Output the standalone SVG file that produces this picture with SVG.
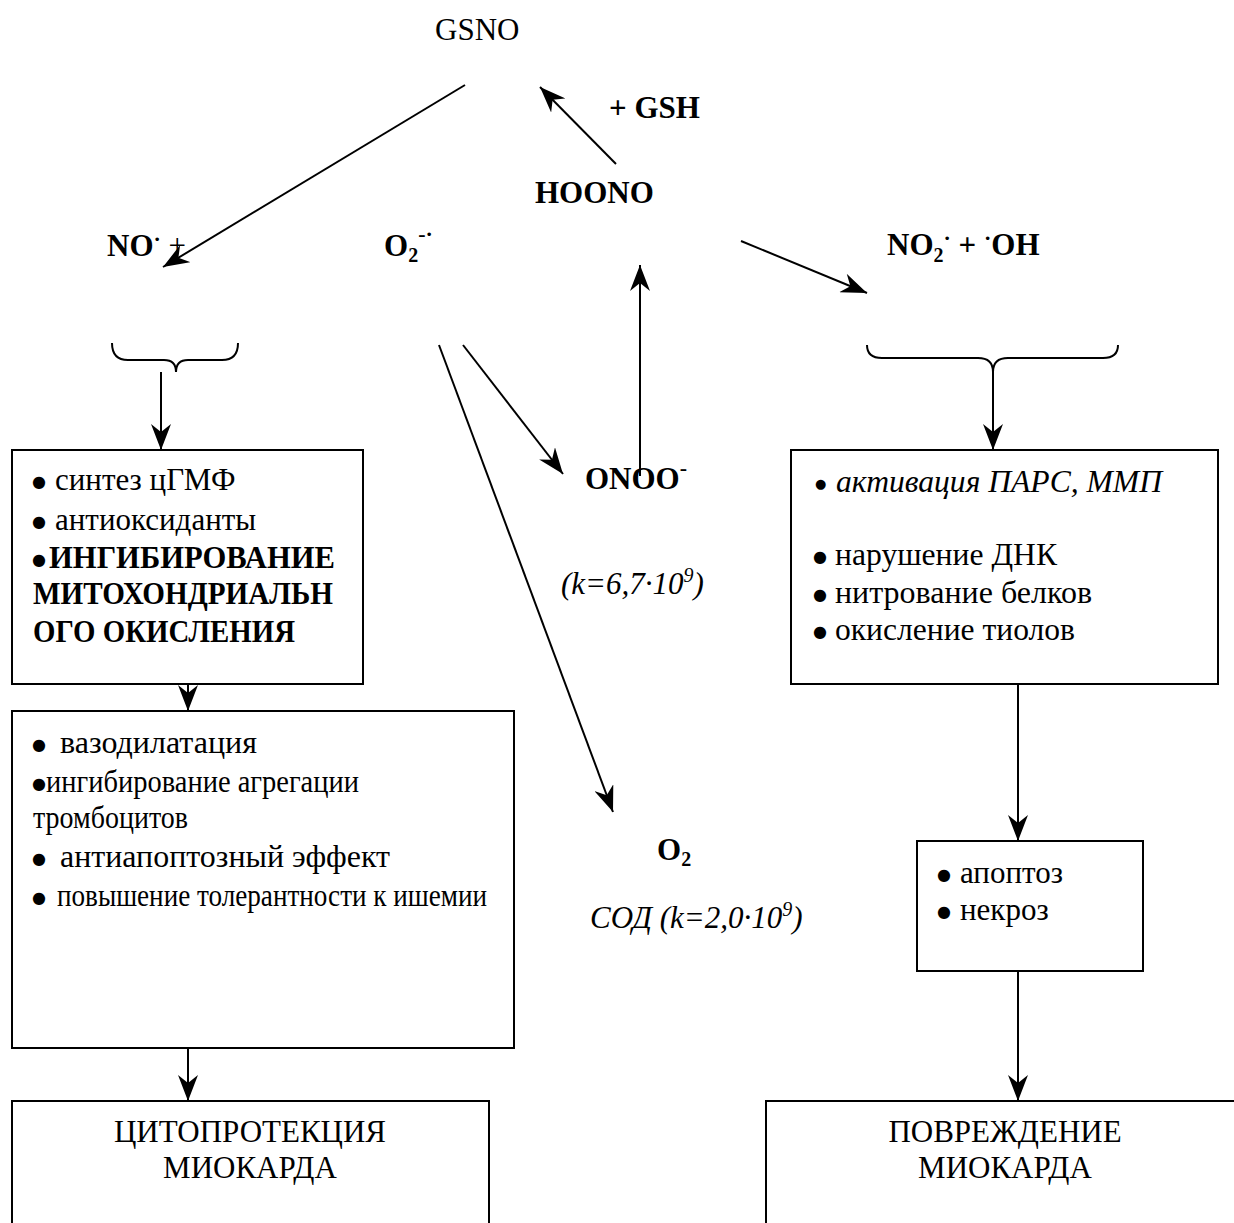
<svg xmlns="http://www.w3.org/2000/svg" width="1234" height="1223" viewBox="0 0 1234 1223">
<style>
.t { font-family: "Liberation Serif", "Times New Roman", serif; font-size: 31px; fill: #000; }
.b { font-weight: bold; }
.i { font-style: italic; }
.c { text-anchor: middle; }
.bu { font-family: "DejaVu Sans", sans-serif; font-size: 16px; fill: #000; }
.bui { font-family: "DejaVu Sans", sans-serif; font-size: 13px; fill: #000; }
.box { fill: #fff; stroke: #000; stroke-width: 2; }
.ln { stroke: #000; stroke-width: 2; fill: none; }
</style>
<defs>
<marker id="ah" viewBox="0 0 26 20" refX="26" refY="10" markerWidth="26" markerHeight="20" markerUnits="userSpaceOnUse" orient="auto">
<path d="M0,0 L26,10 L0,20 L8,10 Z" fill="#000"/>
</marker>
</defs>
<rect width="1234" height="1223" fill="#fff"/>

<g id="connectors">
<line class="ln" x1="465" y1="85" x2="163" y2="267" marker-end="url(#ah)"/>
<line class="ln" x1="616" y1="164" x2="540" y2="87" marker-end="url(#ah)"/>
<line class="ln" x1="741" y1="241" x2="867" y2="293" marker-end="url(#ah)"/>
<line class="ln" x1="640" y1="476" x2="640" y2="265" marker-end="url(#ah)"/>
<line class="ln" x1="463" y1="345" x2="563" y2="474" marker-end="url(#ah)"/>
<line class="ln" x1="439" y1="345" x2="613" y2="812" marker-end="url(#ah)"/>
<path class="ln" d="M112,343 Q112,360 128,360 L164,360 Q176,360 176,372 Q176,360 188,360 L222,360 Q238,360 238,343"/>
<line class="ln" x1="161" y1="372" x2="161" y2="450" marker-end="url(#ah)"/>
<path class="ln" d="M867,345 Q867,358 882,358 L978,358 Q993,358 993,372 Q993,358 1008,358 L1103,358 Q1118,358 1118,345"/>
<line class="ln" x1="993" y1="372" x2="993" y2="450" marker-end="url(#ah)"/>
<line class="ln" x1="188" y1="678" x2="188" y2="711" marker-end="url(#ah)"/>
<line class="ln" x1="188" y1="1048" x2="188" y2="1101" marker-end="url(#ah)"/>
<line class="ln" x1="1018" y1="684" x2="1018" y2="841" marker-end="url(#ah)"/>
<line class="ln" x1="1018" y1="971" x2="1018" y2="1101" marker-end="url(#ah)"/>
</g>

<g id="gsno"><text class="t" x="435" y="40">GSNO</text></g>
<g id="gsh"><text class="t b" x="609" y="118">+ GSH</text></g>
<g id="hoono"><text class="t b" x="535" y="203">HOONO</text></g>
<g id="no"><text class="t b" x="107" y="256">NO<tspan font-size="22" dy="-10">·</tspan><tspan dy="10" font-weight="normal"> +</tspan></text></g>
<g id="o2rad"><text class="t b" x="384" y="256">O<tspan font-size="20" dy="6">2</tspan><tspan font-size="22" dy="-21">-·</tspan></text></g>
<g id="no2oh"><text class="t b" x="887" y="255">NO<tspan font-size="20" dy="7">2</tspan><tspan font-size="22" dy="-17">·</tspan><tspan dy="10"> + </tspan><tspan font-size="22" dy="-10">·</tspan><tspan dy="10">OH</tspan></text></g>
<g id="onoo"><text class="t b" x="585" y="489">ONOO<tspan font-size="22" dy="-14">-</tspan></text></g>
<g id="k1"><text class="t i" x="561" y="594">(k=6,7·10<tspan font-size="20" dy="-12">9</tspan><tspan dy="12">)</tspan></text></g>
<g id="o2"><text class="t b" x="657" y="860">O<tspan font-size="20" dy="6">2</tspan></text></g>
<g id="k2"><text class="t i" x="590" y="928">СОД (k=2,0·10<tspan font-size="20" dy="-12">9</tspan><tspan dy="12">)</tspan></text></g>

<g id="box-effects1">
<rect class="box" x="12" y="450" width="351" height="234"/>
<text class="bu" x="32" y="487">●</text>
<text class="t" x="55" y="490">синтез цГМФ</text>
<text class="bu" x="32" y="527">●</text>
<text class="t" x="55" y="530">антиоксиданты</text>
<text class="bu" x="32" y="565">●</text>
<text class="t b" x="49" y="568" textLength="286" lengthAdjust="spacingAndGlyphs">ИНГИБИРОВАНИЕ</text>
<text class="t b" x="33" y="604" textLength="300" lengthAdjust="spacingAndGlyphs">МИТОХОНДРИАЛЬН</text>
<text class="t b" x="33" y="642" textLength="262" lengthAdjust="spacingAndGlyphs">ОГО ОКИСЛЕНИЯ</text>
</g>

<g id="box-effects2">
<rect class="box" x="12" y="711" width="502" height="337"/>
<text class="bu" x="32" y="750">●</text>
<text class="t" x="60" y="753" textLength="197" lengthAdjust="spacingAndGlyphs">вазодилатация</text>
<text class="bu" x="32" y="789">●</text>
<text class="t" x="46" y="792" textLength="313" lengthAdjust="spacingAndGlyphs">ингибирование агрегации</text>
<text class="t" x="33" y="828" textLength="155" lengthAdjust="spacingAndGlyphs">тромбоцитов</text>
<text class="bu" x="32" y="864">●</text>
<text class="t" x="60" y="867" textLength="330" lengthAdjust="spacingAndGlyphs">антиапоптозный эффект</text>
<text class="bu" x="32" y="903">●</text>
<text class="t" x="57" y="906" textLength="430" lengthAdjust="spacingAndGlyphs">повышение толерантности к ишемии</text>
</g>

<g id="box-damage">
<rect class="box" x="791" y="450" width="427" height="234"/>
<text class="bui" x="815" y="488">●</text>
<text class="t i" x="836" y="492" textLength="326" lengthAdjust="spacingAndGlyphs">активация ПАРС, ММП</text>
<text class="bu" x="813" y="562">●</text>
<text class="t" x="835" y="565" textLength="222" lengthAdjust="spacingAndGlyphs">нарушение ДНК</text>
<text class="bu" x="813" y="600">●</text>
<text class="t" x="835" y="603" textLength="257" lengthAdjust="spacingAndGlyphs">нитрование белков</text>
<text class="bu" x="813" y="637">●</text>
<text class="t" x="835" y="640" textLength="240" lengthAdjust="spacingAndGlyphs">окисление тиолов</text>
</g>

<g id="box-apoptosis">
<rect class="box" x="917" y="841" width="226" height="130"/>
<text class="bu" x="937" y="880">●</text>
<text class="t" x="960" y="883">апоптоз</text>
<text class="bu" x="937" y="917">●</text>
<text class="t" x="960" y="920">некроз</text>
</g>

<g id="box-cytoprotection">
<rect class="box" x="12" y="1101" width="477" height="140"/>
<text class="t c" x="250" y="1142">ЦИТОПРОТЕКЦИЯ</text>
<text class="t c" x="250" y="1178">МИОКАРДА</text>
</g>

<g id="box-injury">
<rect class="box" x="766" y="1101" width="478" height="140"/>
<text class="t c" x="1005" y="1142">ПОВРЕЖДЕНИЕ</text>
<text class="t c" x="1005" y="1178">МИОКАРДА</text>
</g>
</svg>
